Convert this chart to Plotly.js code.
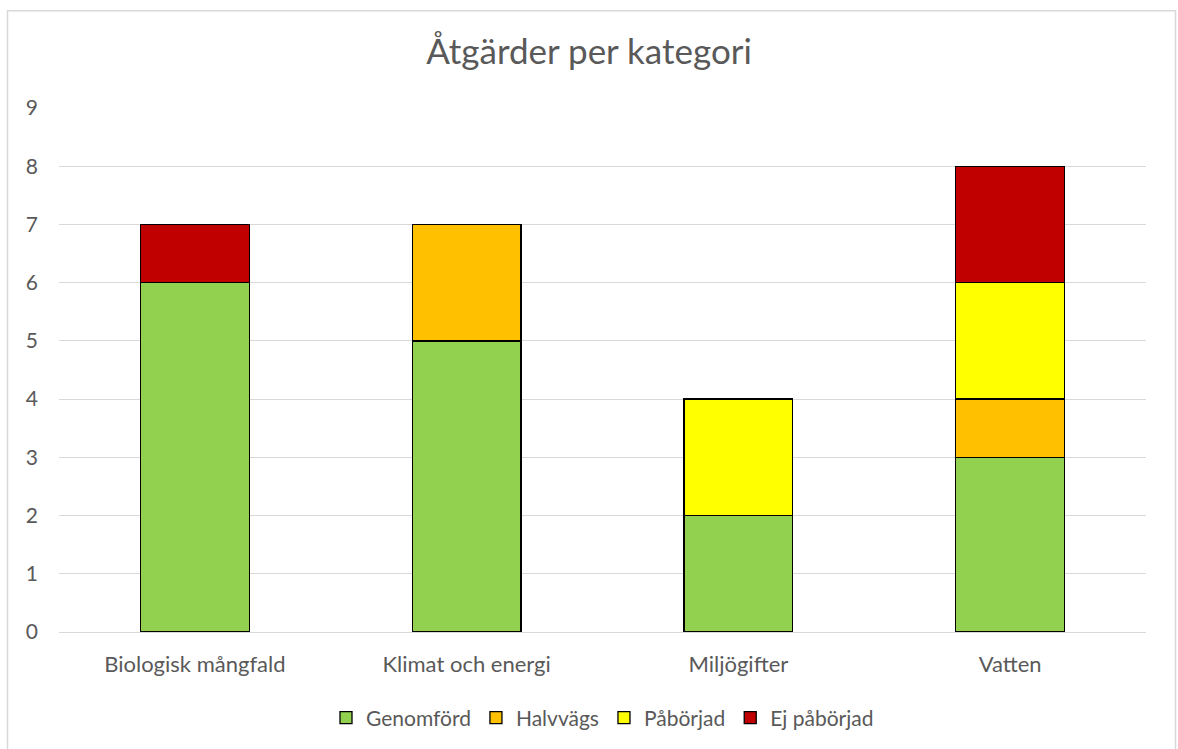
<!DOCTYPE html>
<html>
<head>
<meta charset="utf-8">
<script src="https://cdn.plot.ly/plotly-3.0.1.min.js"></script>
<style>
html,body{margin:0;padding:0;background:#fff;}
#chart{width:1178px;height:749px;}
</style>
</head>
<body>
<div id="chart"></div>
<script>
const categories = ["Biologisk mångfald", "Klimat och energi", "Miljögifter", "Vatten"];
const genomford = [6, 5, 2, 3];
const halvvags = [0, 2, 0, 1];
const paborjad = [0, 0, 2, 2];
const ejPaborjad = [1, 0, 0, 2];
const seriesNames = ["Genomförd", "Halvvägs", "Påbörjad", "Ej påbörjad"];
const seriesColors = ["#92d050", "#ffc000", "#ffff00", "#c00000"];
const seriesValues = [genomford, halvvags, paborjad, ejPaborjad];
const yTicks = [0,1,2,3,4,5,6,7,8,9];

const FONT = "Lato, 'Open Sans', sans-serif";
const traces = seriesValues.map((vals, i) => ({
  type: 'bar',
  name: seriesNames[i],
  x: categories,
  y: vals.map(v => v === 0 ? null : v),
  marker: {color: seriesColors[i], line: {color: '#000000', width: 1.3}},
  hoverinfo: 'x+y+name'
}));

const layout = {
  width: 1178, height: 749,
  barmode: 'stack',
  bargap: 0.6,
  margin: {l: 59, r: 32, t: 108, b: 116},
  paper_bgcolor: '#ffffff',
  plot_bgcolor: '#ffffff',
  font: {family: FONT, color: '#595959', size: 21},
  title: {text: 'Åtgärder per kategori', font: {family: FONT, size: 35, color: '#595959'},
          x: 0.5, xanchor: 'center', y: 1 - 52/749, yanchor: 'middle', yref: 'container'},
  xaxis: {type: 'category', showgrid: false, zeroline: false, showline: false, ticks: '',
          ticklabelstandoff: 17,
          tickfont: {family: FONT, size: 22, color: '#595959'}},
  yaxis: {range: [0, 9], tickvals: yTicks, ticktext: yTicks.map(String), showgrid: true,
          gridcolor: '#d9d9d9', gridwidth: 1, zeroline: true, zerolinecolor: '#d9d9d9', zerolinewidth: 1,
          showline: false, ticks: '', ticklabelstandoff: 20,
          tickfont: {family: FONT, size: 21, color: '#595959'}},
  showlegend: true,
  legend: {orientation: 'h', x: 0.5, xanchor: 'center', y: (633-718)/525, yanchor: 'middle',
           traceorder: 'normal', font: {family: FONT, size: 21, color: '#595959'}, itemwidth: 30},
  shapes: [{type: 'rect', xref: 'paper', yref: 'paper',
            x0: (7.5-59)/1087, x1: (1175.5-59)/1087, y0: (633-770)/525, y1: (633-10.5)/525,
            line: {color: '#d9d9d9', width: 1.5}, fillcolor: 'rgba(0,0,0,0)', layer: 'below'}]
};

Plotly.newPlot('chart', traces, layout, {displayModeBar: false, staticPlot: false});
</script>
</body>
</html>
